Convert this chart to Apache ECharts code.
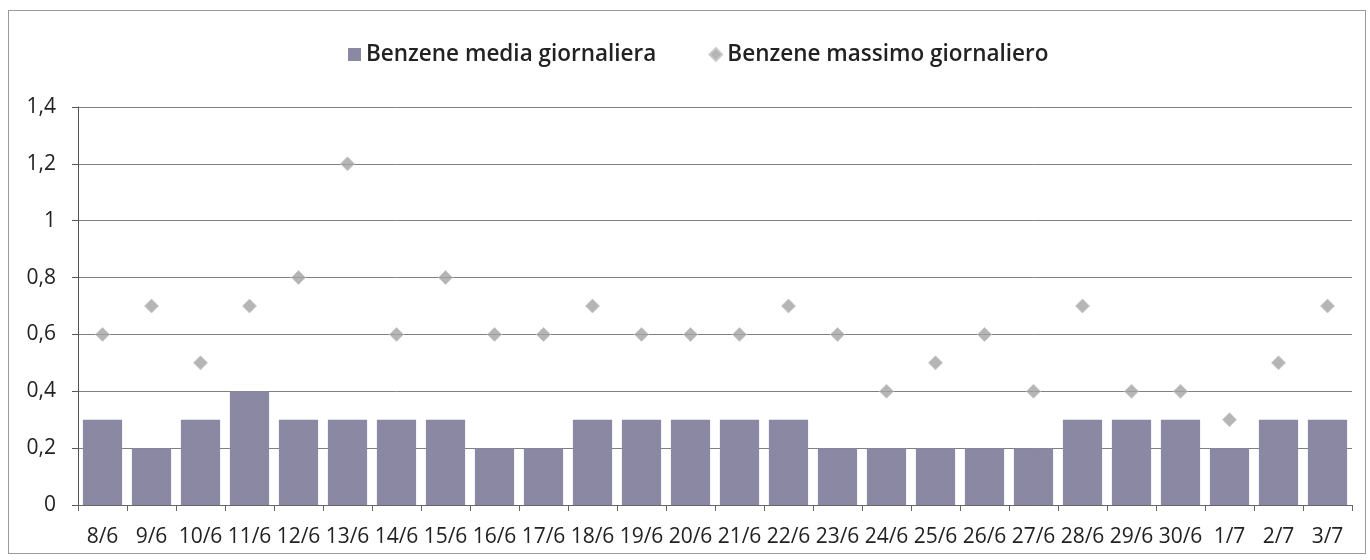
<!DOCTYPE html>
<html>
<head>
<meta charset="utf-8">
<script src="https://cdn.jsdelivr.net/npm/echarts@6/dist/echarts.min.js"></script>
<style>
html,body{margin:0;padding:0;background:#fff;}
#frame{position:absolute;left:8px;top:10px;width:1358px;height:544px;border:1px solid #9a9a9a;box-sizing:border-box;}
#c{position:absolute;left:0;top:0;width:1370px;height:560px;}
</style>
</head>
<body>
<div id="frame"></div>
<div id="c"></div>
<script>
const categories = ["8/6","9/6","10/6","11/6","12/6","13/6","14/6","15/6","16/6","17/6","18/6","19/6","20/6","21/6","22/6","23/6","24/6","25/6","26/6","27/6","28/6","29/6","30/6","1/7","2/7","3/7"];
const mediaGiornaliera = [0.3,0.2,0.3,0.4,0.3,0.3,0.3,0.3,0.2,0.2,0.3,0.3,0.3,0.3,0.3,0.2,0.2,0.2,0.2,0.2,0.3,0.3,0.3,0.2,0.3,0.3];
const massimoGiornaliero = [0.6,0.7,0.5,0.7,0.8,1.2,0.6,0.8,0.6,0.6,0.7,0.6,0.6,0.6,0.7,0.6,0.4,0.5,0.6,0.4,0.7,0.4,0.4,0.3,0.5,0.7];
const seriesNames = ["Benzene media giornaliera","Benzene massimo giornaliero"];

const chart = echarts.init(document.getElementById('c'), null, {renderer:'canvas'});
const fontFam = '"Open Sans","Noto Sans",sans-serif';
chart.setOption({
  animation:false,
  backgroundColor:'transparent',
  textStyle:{fontFamily:fontFam},
  legend:{
    top:38, left:343, itemGap:52, itemWidth:13, itemHeight:13,
    textStyle:{fontSize:22.5, fontWeight:600, color:'#222', fontFamily:fontFam, padding:[0,0,0,0]},
    data:[{name:seriesNames[0], icon:'rect'},{name:seriesNames[1], icon:'diamond'}]
  },
  grid:{left:78, right:18, top:107, bottom:55, containLabel:false},
  xAxis:{
    type:'category', data:categories,
    axisLine:{show:true, lineStyle:{color:'#666', width:1}},
    axisTick:{show:true, alignWithLabel:false, length:6, lineStyle:{color:'#666'}},
    axisLabel:{interval:0, fontSize:21, color:'#222', margin:22, fontFamily:fontFam}
  },
  yAxis:{
    type:'value', min:0, max:1.4, interval:0.2,
    axisLine:{show:true, lineStyle:{color:'#555', width:1}},
    axisTick:{show:true, length:6, lineStyle:{color:'#555'}},
    axisLabel:{fontSize:21, color:'#222', margin:22, fontFamily:fontFam,
      formatter:v=>String(Math.round(v*10)/10).replace('.',',')},
    splitLine:{show:true, lineStyle:{color:'#808080', width:1}}
  },
  series:[
    {name:seriesNames[0], type:'bar', data:mediaGiornaliera, barCategoryGap:'20%',
     itemStyle:{color:'#8b88a4'}},
    {name:seriesNames[1], type:'scatter', data:massimoGiornaliero, symbol:'diamond', symbolSize:14,
     itemStyle:{color:'#a2a2a2', borderColor:'#c8c8c8', borderWidth:1}}
  ]
});
</script>
</body>
</html>
